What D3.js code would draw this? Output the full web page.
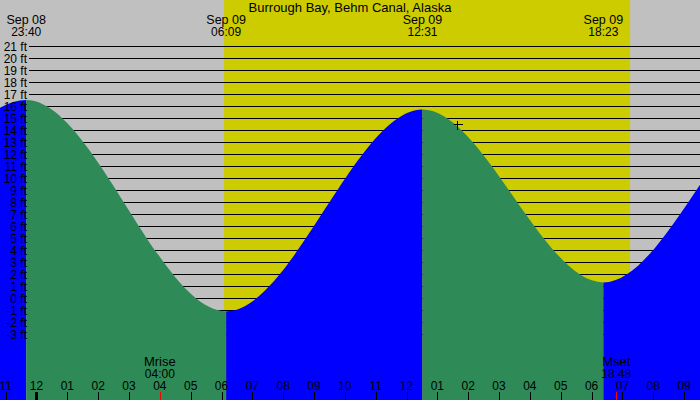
<!DOCTYPE html>
<html>
<head>
<meta charset="utf-8">
<script src="https://cdn.jsdelivr.net/npm/d3@7"></script>
<style>
  body { margin: 0; background: #fff; }
  svg { display: block; }
  text { font-family: "Liberation Sans", Arial, sans-serif; font-size: 12px; fill: #000; }
  .word { font-size: 13px; }
  .date { font-size: 12.5px; }
</style>
</head>
<body>
<div id="chart"></div>
<script>
// tide extremes (local time), first and last ones are just off the chart
const tideTimes = [
  new Date(2023, 8, 8, 10, 20),
  new Date(2023, 8, 8, 16, 30),
  new Date(2023, 8, 8, 23, 40),
  new Date(2023, 8, 9, 6, 9),
  new Date(2023, 8, 9, 12, 31),
  new Date(2023, 8, 9, 18, 23),
  new Date(2023, 8, 10, 0, 30),
  new Date(2023, 8, 10, 7, 0)
]
const tideHeights = [16.0, 0.0, 16.5, -1.1, 15.7, 1.3, 17.0, -1.5]

// the extremes labelled along the top
const headerLabels = [["Sep 08", "23:40"], ["Sep 09", "06:09"], ["Sep 09", "12:31"], ["Sep 09", "18:23"]]
const headerTimes = [tideTimes[2], tideTimes[3], tideTimes[4], tideTimes[5]]

const sunrise = new Date(2023, 8, 9, 6, 5)
const sunset = new Date(2023, 8, 9, 19, 15)

const moonNames = ["Mrise", "Mset"]
const moonLabels = ["04:00", "18:48"]
const moonTimes = [new Date(2023, 8, 9, 4, 0), new Date(2023, 8, 9, 18, 48)]

// "+" marker on the curve
const markTime = new Date(2023, 8, 9, 13, 38)
const markHeight = 14.5

const feet = d3.range(-3, 22)
const title = "Burrough Bay, Behm Canal, Alaska"

var width = 700, height = 400

var svg = d3.select("#chart").append("svg")
  .attr("width", width)
  .attr("height", height)

var x = d3.scaleTime()
  .domain([new Date(2023, 8, 8, 22, 49), new Date(2023, 8, 9, 21, 31)])
  .range([0, width])

var y = d3.scaleLinear()
  .domain([21, -3])
  .range([46, 334])

// night / day background
svg.append("rect")
  .attr("width", width).attr("height", height)
  .attr("fill", "#c0c0c0")
svg.append("rect")
  .attr("x", x(sunrise)).attr("width", x(sunset) - x(sunrise))
  .attr("height", height)
  .attr("fill", "#cccc00")

// grid lines, one per foot
svg.selectAll(".grid")
  .data(feet).enter()
  .append("line")
    .attr("x1", 29).attr("x2", width)
    .attr("y1", d => Math.round(y(d)) + 0.5)
    .attr("y2", d => Math.round(y(d)) + 0.5)
    .attr("stroke", "#000")
    .attr("shape-rendering", "crispEdges")

// tide area, coloured blue when rising and green when falling
var tide = tideTimes.map((t, i) => ({t: t, h: tideHeights[i]}))
var area = d3.area()
  .x(d => x(d.t))
  .y0(height)
  .y1(d => y(d.h))
  .curve(d3.curveMonotoneX)

var segs = d3.pairs(tide)
var defs = svg.append("defs")
segs.forEach(function(p, i) {
  defs.append("clipPath").attr("id", "seg" + i)
    .append("rect")
      .attr("x", x(p[0].t)).attr("y", 0)
      .attr("width", x(p[1].t) - x(p[0].t)).attr("height", height)
})
segs.forEach(function(p, i) {
  svg.append("path")
    .attr("d", area(tide))
    .attr("clip-path", "url(#seg" + i + ")")
    .attr("fill", p[1].h > p[0].h ? "#0000ff" : "#2e8b57")
})

// left ft labels
svg.selectAll(".ylab")
  .data(feet).enter()
  .append("text")
    .attr("x", 27)
    .attr("y", d => y(d) + 4.5)
    .attr("text-anchor", "end")
    .text(d => d + " ft")

// title and extreme times at top
svg.append("text")
  .attr("class", "word")
  .attr("x", 350).attr("y", 12)
  .attr("text-anchor", "middle")
  .text(title)

var head = svg.selectAll(".head")
  .data(headerTimes).enter()
  .append("g")
    .attr("transform", d => "translate(" + x(d) + ",0)")
head.append("text")
  .attr("class", "date")
  .attr("y", 24).attr("text-anchor", "middle")
  .text((d, i) => headerLabels[i][0])
head.append("text")
  .attr("y", 36).attr("text-anchor", "middle")
  .text((d, i) => headerLabels[i][1])

// the + marker
var mx = Math.round(x(markTime)) + 0.5, my = Math.round(y(markHeight)) + 0.5
svg.append("path")
  .attr("d", "M" + (mx - 4) + "," + my + "H" + (mx + 5) + "M" + mx + "," + (my - 4) + "V" + (my + 5))
  .attr("stroke", "#000")
  .attr("shape-rendering", "crispEdges")

// hour axis along the bottom
var hours = x.ticks(d3.timeHour.every(1))
var fmt = d3.timeFormat("%I")
svg.selectAll(".tick")
  .data(hours).enter()
  .append("line")
    .attr("x1", d => Math.round(x(d)) + 0.5)
    .attr("x2", d => Math.round(x(d)) + 0.5)
    .attr("y1", 392).attr("y2", height)
    .attr("stroke", "#000")
    .attr("stroke-width", d => d.getHours() == 0 ? 3 : 1)
    .attr("shape-rendering", "crispEdges")
svg.selectAll(".hlab")
  .data(hours).enter()
  .append("text")
    .attr("x", d => x(d))
    .attr("y", 390)
    .attr("text-anchor", "middle")
    .text(d => fmt(d))

// moon rise / set
svg.selectAll(".mtick")
  .data(moonTimes).enter()
  .append("line")
    .attr("x1", d => Math.round(x(d)) + 0.5)
    .attr("x2", d => Math.round(x(d)) + 0.5)
    .attr("y1", 392).attr("y2", height)
    .attr("stroke", "#ff0000")
    .attr("shape-rendering", "crispEdges")
var moon = svg.selectAll(".moon")
  .data(moonTimes).enter()
  .append("g")
    .attr("transform", d => "translate(" + x(d) + ",0)")
moon.append("text")
  .attr("class", "word")
  .attr("y", 366).attr("text-anchor", "middle")
  .text((d, i) => moonNames[i])
moon.append("text")
  .attr("y", 378).attr("text-anchor", "middle")
  .text((d, i) => moonLabels[i])
</script>
</body>
</html>
